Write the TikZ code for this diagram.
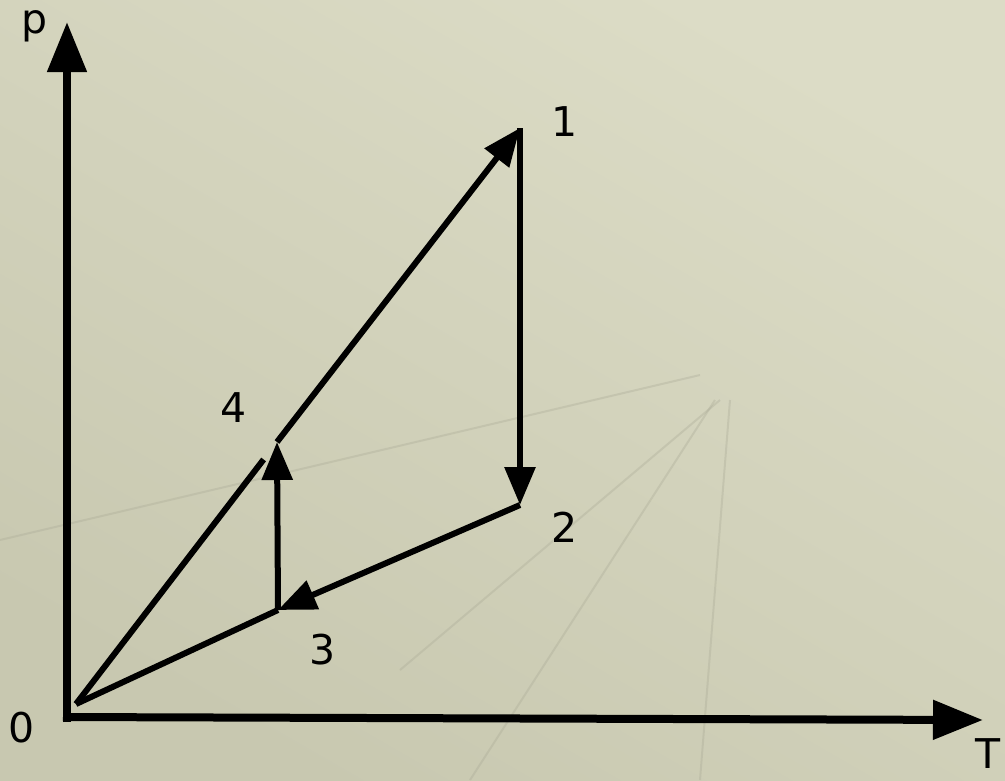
\documentclass[tikz,border=0pt]{standalone}
\usepackage{fontspec}
\setmainfont{DejaVu Sans}
\usetikzlibrary{arrows.meta}
\definecolor{bgdark}{RGB}{200,200,176}
\definecolor{bglight}{RGB}{220,220,198}
\tikzset{
  axis/.style={line width=8pt,-{Triangle[length=50pt,width=38pt]}},
  step arrow/.style={line width=6pt,-{Triangle[length=38pt,width=30pt]}},
  plain line/.style={line width=6pt},
  lbl/.style={font=\fontsize{41}{48}\selectfont,inner sep=0pt}
}
\begin{document}
\begin{tikzpicture}[x=1pt,y=-1pt]
\shade[bottom color=bgdark,top color=bglight,shading angle=-30] (0,0) rectangle (1005,780);
\useasboundingbox (0,0) rectangle (1005,780);
% faint background lines
\begin{scope}[draw=bgdark!85!black,line width=2pt,opacity=.35]
\draw (0,540) -- (700,375);
\draw (400,670) -- (720,400);
\draw (470,780) -- (715,400);
\draw (700,780) -- (730,400);
\end{scope}
\coordinate (O) at (67,717);
\coordinate (S) at (76,704);
\coordinate (P1) at (520,128);
\coordinate (P2) at (520,505);
\coordinate (P3) at (278,610);
\coordinate (P4) at (277,442);
% axes
\draw[axis] (67,722) -- (67,22) coordinate (pend);
\draw[axis] (63,717) -- (983,720) coordinate (Tend);
\node[lbl] (p) at (35,26) {p};
\node[lbl] (T) at (988,754) {T};
\node[lbl] (zero) at (22,728) {0};
% cycle
\draw[plain line,shorten >=22pt] (S) -- (P4);
\draw[step arrow] (P4) -- (P1);
\draw[step arrow] (P1) -- (P2);
\draw[step arrow] (P2) -- (P3);
\draw[step arrow] (P3) -- (P4);
\draw[plain line] (P3) -- (S);
\node[lbl] (l1) at (565,122) {1};
\node[lbl] (l2) at (565,527) {2};
\node[lbl] (l3) at (323,650) {3};
\node[lbl] (l4) at (234,408) {4};
\end{tikzpicture}
\end{document}
